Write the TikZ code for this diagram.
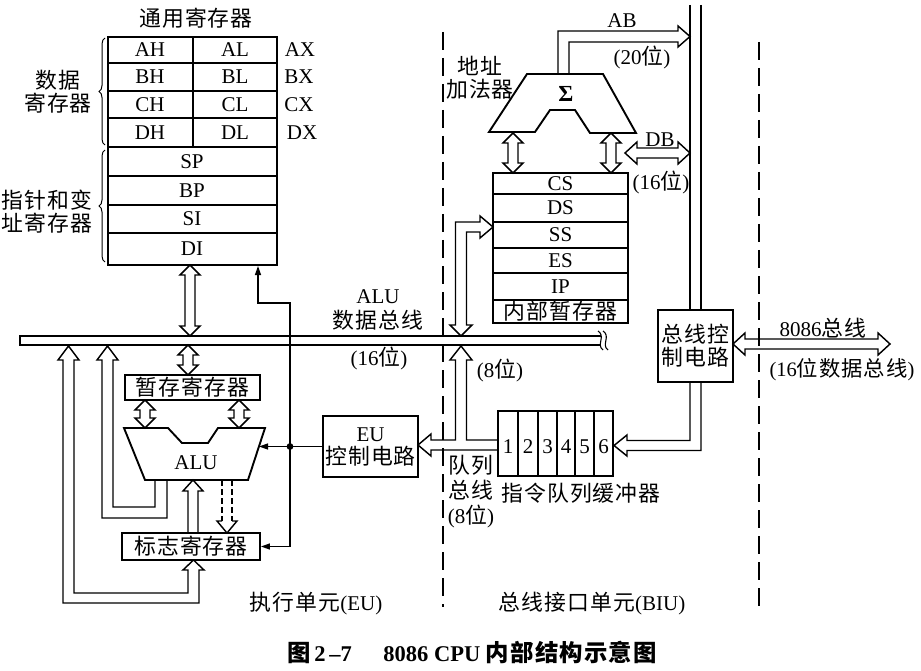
\documentclass[tikz,border=0pt]{standalone}
\usepackage{fontspec}
\setmainfont{Liberation Serif}
\newfontfamily\cjkf{Noto Sans CJK SC}[Scale=1.04, LetterSpace=5]
\newcommand\zh[1]{{\cjkf #1}}
\usetikzlibrary{decorations.pathreplacing,arrows.meta}
\newcommand\vbi[3]{\draw[hol] (#1,#2) -- ({#1+10},{#2+10}) -- ({#1+5},{#2+10}) -- ({#1+5},{#3-10}) -- ({#1+10},{#3-10}) -- (#1,#3) -- ({#1-10},{#3-10}) -- ({#1-5},{#3-10}) -- ({#1-5},{#2+10}) -- ({#1-10},{#2+10}) -- cycle;}
\newcommand\hbi[3]{\draw[hol] (#2,#1) -- ({#2+12},{#1-11}) -- ({#2+12},{#1-5}) -- ({#3-12},{#1-5}) -- ({#3-12},{#1-11}) -- (#3,#1) -- ({#3-12},{#1+11}) -- ({#3-12},{#1+5}) -- ({#2+12},{#1+5}) -- ({#2+12},{#1+11}) -- cycle;}
\begin{document}
\begin{tikzpicture}[x=1pt,y=-1pt,
  every node/.style={font=\fontsize{21}{23}\selectfont, inner sep=0pt, align=center},
  box/.style={draw, line width=1.9pt},
  thin/.style={draw, line width=1.3pt},
  hol/.style={draw, line width=1.45pt, line join=miter},
  ctl/.style={draw, line width=1.3pt, -{Triangle[length=9pt,width=6pt]}},
  sep/.style={draw, line width=1.4pt, dash pattern=on 18pt off 8pt},
  brc/.style={draw, line width=1pt, decorate, decoration={brace, amplitude=6pt}}
]
\useasboundingbox (0,0) rectangle (921,671);

% ---------- general registers ----------
\node (gtitle) at (196,18) {\zh{通用寄存器}};
\draw[box] (108,37) rectangle (277,265);
\foreach \yy in {63,91,118,147,176,205,233} \draw[thin] (108,\yy) -- (277,\yy);
\draw[thin] (193,37) -- (193,147);
\node (AH) at (150,50) {AH};   \node (AL) at (235,50) {AL};
\node (BH) at (150,77) {BH};   \node (BL) at (235,77) {BL};
\node (CH) at (150,104.5) {CH}; \node (CL) at (235,104.5) {CL};
\node (DH) at (150,132.5) {DH}; \node (DL) at (235,132.5) {DL};
\node (SP) at (192,161.5) {SP};
\node (BP) at (192,190.5) {BP};
\node (SI) at (192,219) {SI};
\node (DI) at (192,249) {DI};
\node (AX) at (300,50) {AX};
\node (BX) at (299,77) {BX};
\node (CX) at (299,104.5) {CX};
\node (DX) at (302,132.5) {DX};
\draw[brc] (105,145) -- (105,38);
\draw[brc] (105,262) -- (105,150);
\node (datalbl) at (58,91.5) {\zh{数据}\\\zh{寄存器}};
\node (ptrlbl) at (47,211.5) {\zh{指针和变}\\\zh{址寄存器}};

% ---------- ALU data bus ----------
\draw[hol] (601,336) -- (20,336) -- (20,345) -- (601,345);
\draw[line width=1.1pt] (598,331) .. controls (606,336) and (596,345) .. (603,350);
\draw[line width=1.1pt] (603,331) .. controls (611,336) and (601,345) .. (608,350);
\node (alubus) at (378,309.5) {ALU\\[2pt]\zh{数据总线}};
\node (b16) at (379,358) {(16\zh{位})};

\vbi{190}{265}{336}

% ---------- EU ----------
\node[box, minimum width=135pt, minimum height=25pt] (tmp) at (192.5,387.5) {\zh{暂存寄存器}};
\vbi{188}{345}{375}
\vbi{145}{400}{428}
\vbi{239}{400}{428}
\draw[box] (124,428) -- (168,428) -- (182,443) -- (208,443) -- (218,428) -- (265,428) -- (248,480) -- (145,480) -- cycle;
\node (alu) at (196,463) {ALU};
\node[box, minimum width=138pt, minimum height=27pt] (flag) at (191,546.5) {\zh{标志寄存器}};

% ALU result back to bus
\draw[hol] (155,480) -- (155,507) -- (113,507) -- (113,360) -- (118,360) -- (107.5,346) -- (97,360) -- (102,360) -- (102,518) -- (167,518) -- (167,480);
% flags <-> bus
\draw[hol] (188,570) -- (188,593) -- (74,593) -- (74,360) -- (79,360) -- (68.5,346) -- (58,360) -- (63,360) -- (63,603) -- (199,603) -- (199,570) -- (204,570) -- (193.5,560) -- (183,570) -- cycle;
% flags -> ALU
\draw[hol] (193,480) -- (203,491) -- (198,491) -- (198,533) -- (188,533) -- (188,491) -- (183,491) -- cycle;
% ALU -> flags (dashed)
\draw[hol, dash pattern=on 6pt off 3pt] (222,480) -- (222,521);
\draw[hol, dash pattern=on 6pt off 3pt] (232,480) -- (232,521);
\draw[hol] (222,521) -- (217,521) -- (227,533) -- (237,521) -- (232,521);

% EU control
\node[box, minimum width=95pt, minimum height=61pt] (euc) at (370.5,446.5) {EU\\\zh{控制电路}};
\coordinate (dot) at (290,446.5);
\fill (dot) circle (3.4pt);
\draw[ctl] (euc.west) -- (259,446.5);
\draw[ctl] (dot) |- (258,303) -- (258,266);
\draw[ctl] (dot) |- (flag.east);

% ---------- BIU ----------
\draw[sep] (443,32) -- (443,607);
\draw[sep] (759,42) -- (759,607);

% segment registers
\draw[box] (493,173) rectangle (628,323);
\foreach \yy in {194,222,248,273,300} \draw[thin] (493,\yy) -- (628,\yy);
\node (CS) at (560.5,184) {CS};
\node (DS) at (560.5,208) {DS};
\node (SS) at (560.5,235) {SS};
\node (ES) at (560.5,261) {ES};
\node (IP) at (560.5,286.5) {IP};
\node (itmp) at (560.5,311.5) {\zh{内部暂存器}};

% address adder
\draw[box] (527,74) -- (603,74) -- (636,133) -- (590,133) -- (575,110) -- (550,110) -- (535,132) -- (489,132) -- cycle;
\node (sigma) at (566,94) {\fontsize{23}{23}\selectfont\textbf{Σ}};
\node (addlbl) at (480,77.5) {\fontsize{21}{21}\selectfont\zh{地址}\\\zh{加法器}};
\vbi{513}{133}{173}
\vbi{611}{133}{173}

% AB
\draw[hol] (558,74) -- (558,31) -- (678,31) -- (678,26) -- (690,36.5) -- (678,47) -- (678,42) -- (569,42) -- (569,74);
\node (ABl) at (622,21) {AB};
\node (AB20) at (642,57) {(20\zh{位})};
% DB
\hbi{153}{625}{690}
\node (DBl) at (660,140) {DB};
\node (DB16) at (661,182) {(16\zh{位})};

% system bus and bus control
\draw[hol] (690,5) -- (690,310);
\draw[hol] (701,5) -- (701,310);
\node[box, minimum width=75pt, minimum height=72pt] (bcc) at (695.5,346) {\zh{总线控}\\\zh{制电路}};
\hbi{344}{733}{890}
\node (b8086) at (823,328) {8086\zh{总线}};
\node (b8086b) at (842,370) {\fontsize{20.5}{21}\selectfont(16\zh{位数据总线})};

% segment block <-> bus
\draw[hol] (493,227) -- (480,216) -- (480,222) -- (455.5,222) -- (455.5,325) -- (450,325) -- (461,336) -- (472,325) -- (466.5,325) -- (466.5,232) -- (480,232) -- (480,238) -- cycle;

% instruction queue
\draw[box] (498,411) rectangle (613,476);
\foreach \xx in {518,538,557,575,594} \draw[thin] (\xx,411) -- (\xx,476);
\node (q1) at (508,447) {1};
\node (q2) at (528,447) {2};
\node (q3) at (547.5,447) {3};
\node (q4) at (566,447) {4};
\node (q5) at (584.5,447) {5};
\node (q6) at (603.5,447) {6};
\node (qlbl) at (581,493) {\zh{指令队列缓冲器}};

% bus -> queue
\draw[hol] (690,382) -- (690,440.5) -- (627,440.5) -- (627,435) -- (614,445.5) -- (627,456) -- (627,450.5) -- (701,450.5) -- (701,382);

% queue bus (T)
\draw[hol] (498,440) -- (466.5,440) -- (466.5,360) -- (472,360) -- (461,346) -- (450,360) -- (455.5,360) -- (455.5,440) -- (431,440) -- (431,434) -- (418,445) -- (431,456) -- (431,450) -- (498,450);
\node (q8) at (500,370) {(8\zh{位})};
\node (qbus) at (471,492) {\zh{队列}\\[2pt]\zh{总线}\\[2pt](8\zh{位})};

% unit labels and caption
\node (eulbl) at (316,604) {\zh{执行单元}(EU)};
\node (biulbl) at (592,604) {\zh{总线接口单元}(BIU)};
\node (cap) at (472,652) {\fontsize{22.5}{24}\selectfont\bfseries\zh{图}\,2\,–7\hspace{1.4em}8086 CPU \zh{内部结构示意图}};
\end{tikzpicture}
\end{document}
